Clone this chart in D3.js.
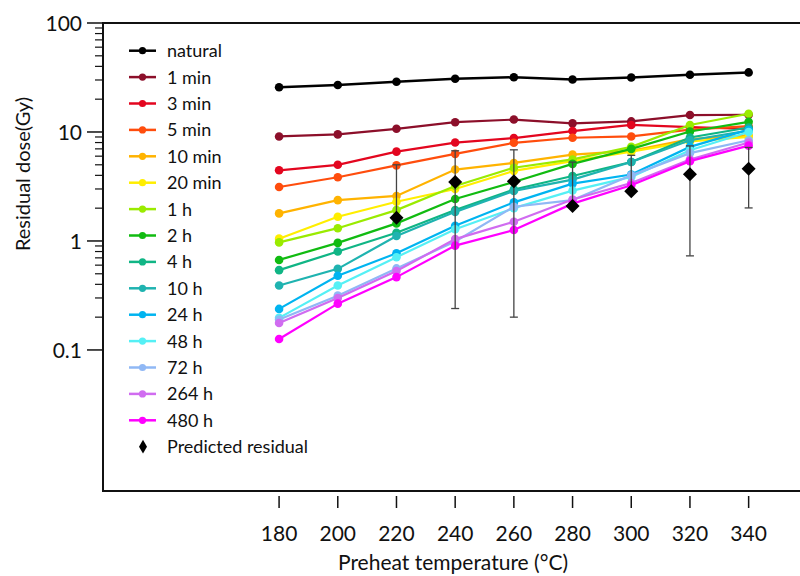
<!DOCTYPE html>
<html>
<head>
<meta charset="utf-8">
<script src="https://cdn.jsdelivr.net/npm/d3@7"></script>
<style>
  body { margin: 0; background: #fff; }
  text { font-family: Lato, "Open Sans", sans-serif; fill: #111; }
</style>
</head>
<body>
<div id="chart"></div>
<script>
"use strict";
(function() {

const WIDTH = 800
const HEIGHT = 576

// preheat temperatures (°C)
const temps = [180, 200, 220, 240, 260, 280, 300, 320, 340]

const seriesNames = ["natural", "1 min", "3 min", "5 min", "10 min", "20 min", "1 h", "2 h",
    "4 h", "10 h", "24 h", "48 h", "72 h", "264 h", "480 h"]

const seriesColors = ["#000000", "#8c0f2a", "#e3061f", "#ff4d0d", "#ffb300", "#ffee00", "#9aeb00",
    "#11bb11", "#10b585", "#1fb3b0", "#00b4f0", "#55f0f5", "#90b8f5", "#d06cf0", "#ff00ff"]

// residual dose (Gy), one row per series
const natural = [25.7, 27.0, 28.9, 30.8, 31.8, 30.3, 31.6, 33.5, 35.2]
const min1    = [9.1, 9.5, 10.7, 12.3, 13.0, 12.0, 12.5, 14.3, 14.4]
const min3    = [4.45, 5.0, 6.6, 8.0, 8.8, 10.2, 11.6, 11.1, 10.7]
const min5    = [3.13, 3.84, 4.94, 6.3, 7.96, 8.85, 9.1, 10.5, 11.3]
const min10   = [1.79, 2.37, 2.59, 4.52, 5.2, 6.2, 6.7, 8.6, 9.3]
const min20   = [1.05, 1.67, 2.29, 3.0, 4.4, 5.4, 6.6, 8.2, 9.0]
const h1      = [0.97, 1.31, 1.92, 3.2, 4.7, 5.6, 7.3, 11.6, 14.7]
const h2      = [0.67, 0.96, 1.45, 2.43, 3.48, 5.1, 7.0, 10.1, 12.4]
const h4      = [0.54, 0.80, 1.19, 1.92, 2.97, 3.95, 5.3, 8.9, 11.0]
const h10     = [0.39, 0.555, 1.11, 1.85, 2.88, 3.66, 5.3, 8.4, 10.3]
const h24     = [0.238, 0.48, 0.77, 1.38, 2.26, 3.36, 4.07, 7.3, 10.5]
const h48     = [0.197, 0.39, 0.71, 1.28, 2.0, 2.9, 3.87, 6.8, 10.0]
const h72     = [0.19, 0.315, 0.56, 0.99, 2.06, 2.37, 4.0, 6.4, 8.4]
const h264    = [0.177, 0.30, 0.53, 1.04, 1.5, 2.4, 3.4, 5.6, 8.0]
const h480    = [0.126, 0.266, 0.466, 0.906, 1.26, 2.2, 3.25, 5.4, 7.5]

const seriesValues = [natural, min1, min3, min5, min10, min20, h1, h2, h4, h10, h24, h48, h72, h264, h480]

// predicted residual with ± error
const predTemps = [220, 240, 260, 280, 300, 320, 340]
const predValues = [1.63, 3.48, 3.53, 2.09, 2.86, 4.09, 4.61]
const predErrors = [3.37, 3.24, 3.33, 3.2, 3.25, 3.36, 2.6]

const yMajor = [0.1, 1, 10, 100]
const yTickLabels = ["0.1", "1", "10", "100"]

const plot = { left: 103, right: 800, top: 23, bottom: 491 }

var svg = d3.select("#chart").append("svg")
    .attr("width", WIDTH)
    .attr("height", HEIGHT)

let x_scale = d3.scaleLinear().domain([120, 357.5]).range([plot.left, plot.right])
let y_scale = d3.scaleLog().domain([0.00508, 100]).range([plot.bottom, plot.top])

function drawAxes() {
    // frame: left, top and bottom lines
    svg.append("path")
        .attr("d", `M${plot.right},${plot.top}H${plot.left}V${plot.bottom}H${plot.right}`)
        .attr("fill", "none")
        .attr("stroke", "#111")
        .attr("stroke-width", 2)

    // y ticks, major and minor
    let minor = []
    yMajor.slice(0, -1).forEach(m => {
        for (let k = 2; k <= 9; k++) minor.push(m * k)
    })
    svg.selectAll(".ymajor").data(yMajor).enter().append("line")
        .attr("x1", plot.left - 16).attr("x2", plot.left)
        .attr("y1", d => y_scale(d)).attr("y2", d => y_scale(d))
        .attr("stroke", "#111").attr("stroke-width", 1.5)
    svg.selectAll(".yminor").data(minor).enter().append("line")
        .attr("x1", plot.left - 8).attr("x2", plot.left)
        .attr("y1", d => y_scale(d)).attr("y2", d => y_scale(d))
        .attr("stroke", "#111").attr("stroke-width", 1.2)
    svg.selectAll(".ylabel").data(yMajor).enter().append("text")
        .attr("x", plot.left - 21)
        .attr("y", d => y_scale(d))
        .attr("dy", "0.36em")
        .attr("text-anchor", "end")
        .attr("font-size", "21px")
        .text((d, i) => yTickLabels[i])

    // x ticks hang below the axis with a small gap
    svg.selectAll(".xtick").data(temps).enter().append("line")
        .attr("x1", d => x_scale(d)).attr("x2", d => x_scale(d))
        .attr("y1", plot.bottom + 5).attr("y2", plot.bottom + 17)
        .attr("stroke", "#111").attr("stroke-width", 1.5)
    svg.selectAll(".xlabel").data(temps).enter().append("text")
        .attr("x", d => x_scale(d))
        .attr("y", plot.bottom + 50)
        .attr("text-anchor", "middle")
        .attr("font-size", "21px")
        .text(d => d)

    // axis titles
    svg.append("text")
        .attr("x", 453).attr("y", 570)
        .attr("text-anchor", "middle")
        .attr("font-size", "21px")
        .text("Preheat temperature (°C)")
    svg.append("text")
        .attr("transform", "translate(30, 174) rotate(-90)")
        .attr("text-anchor", "middle")
        .attr("font-size", "20px")
        .text("Residual dose(Gy)")
}

function drawSeries() {
    let line = d3.line()
        .x((d, i) => x_scale(temps[i]))
        .y(d => y_scale(d))

    seriesValues.forEach((vals, s) => {
        let g = svg.append("g")
        g.append("path")
            .attr("d", line(vals))
            .attr("fill", "none")
            .attr("stroke", seriesColors[s])
            .attr("stroke-width", s === 0 ? 2.5 : 2.2)
        g.selectAll("circle").data(vals).enter().append("circle")
            .attr("cx", (d, i) => x_scale(temps[i]))
            .attr("cy", d => y_scale(d))
            .attr("r", 4.3)
            .attr("fill", seriesColors[s])
    })
}

function drawPredicted() {
    let cap = 4
    predTemps.forEach((t, i) => {
        let v = predValues[i], e = predErrors[i]
        let xp = x_scale(t)
        let top = y_scale(v + e)
        // lower half is only drawn where it stays positive
        let bottom = v - e > 0 ? y_scale(v - e) : y_scale(v)
        let g = svg.append("g").attr("stroke", "#444").attr("stroke-width", 1.3)
        g.append("line").attr("x1", xp).attr("x2", xp).attr("y1", top).attr("y2", bottom)
        g.append("line").attr("x1", xp - cap).attr("x2", xp + cap).attr("y1", top).attr("y2", top)
        if (v - e > 0) {
            g.append("line").attr("x1", xp - cap).attr("x2", xp + cap).attr("y1", bottom).attr("y2", bottom)
        }
    })
    svg.selectAll(".pred").data(predValues).enter().append("path")
        .attr("d", d3.symbol(d3.symbolSquare, 98)())
        .attr("transform", (d, i) => `translate(${x_scale(predTemps[i])},${y_scale(d)}) rotate(45)`)
        .attr("fill", "#000")
}

function drawLegend() {
    const lx = 129, lw = 27, ty = 50.7, step = 26.4
    let names = seriesNames.concat(["Predicted residual"])
    names.forEach((name, i) => {
        let yy = ty + i * step
        if (i < seriesNames.length) {
            svg.append("line")
                .attr("x1", lx).attr("x2", lx + lw)
                .attr("y1", yy).attr("y2", yy)
                .attr("stroke", seriesColors[i]).attr("stroke-width", 2.5)
            svg.append("circle")
                .attr("cx", lx + lw / 2).attr("cy", yy).attr("r", 3.6)
                .attr("fill", seriesColors[i])
        } else {
            svg.append("path")
                .attr("d", d3.symbol(d3.symbolDiamond, 55)())
                .attr("transform", `translate(${lx + 14},${yy})`)
                .attr("fill", "#000")
        }
        svg.append("text")
            .attr("x", 167).attr("y", yy)
            .attr("dy", "0.36em")
            .attr("font-size", "18px")
            .text(name)
    })
}

drawAxes()
drawSeries()
drawPredicted()
drawLegend()
})();
</script>
</body>
</html>
